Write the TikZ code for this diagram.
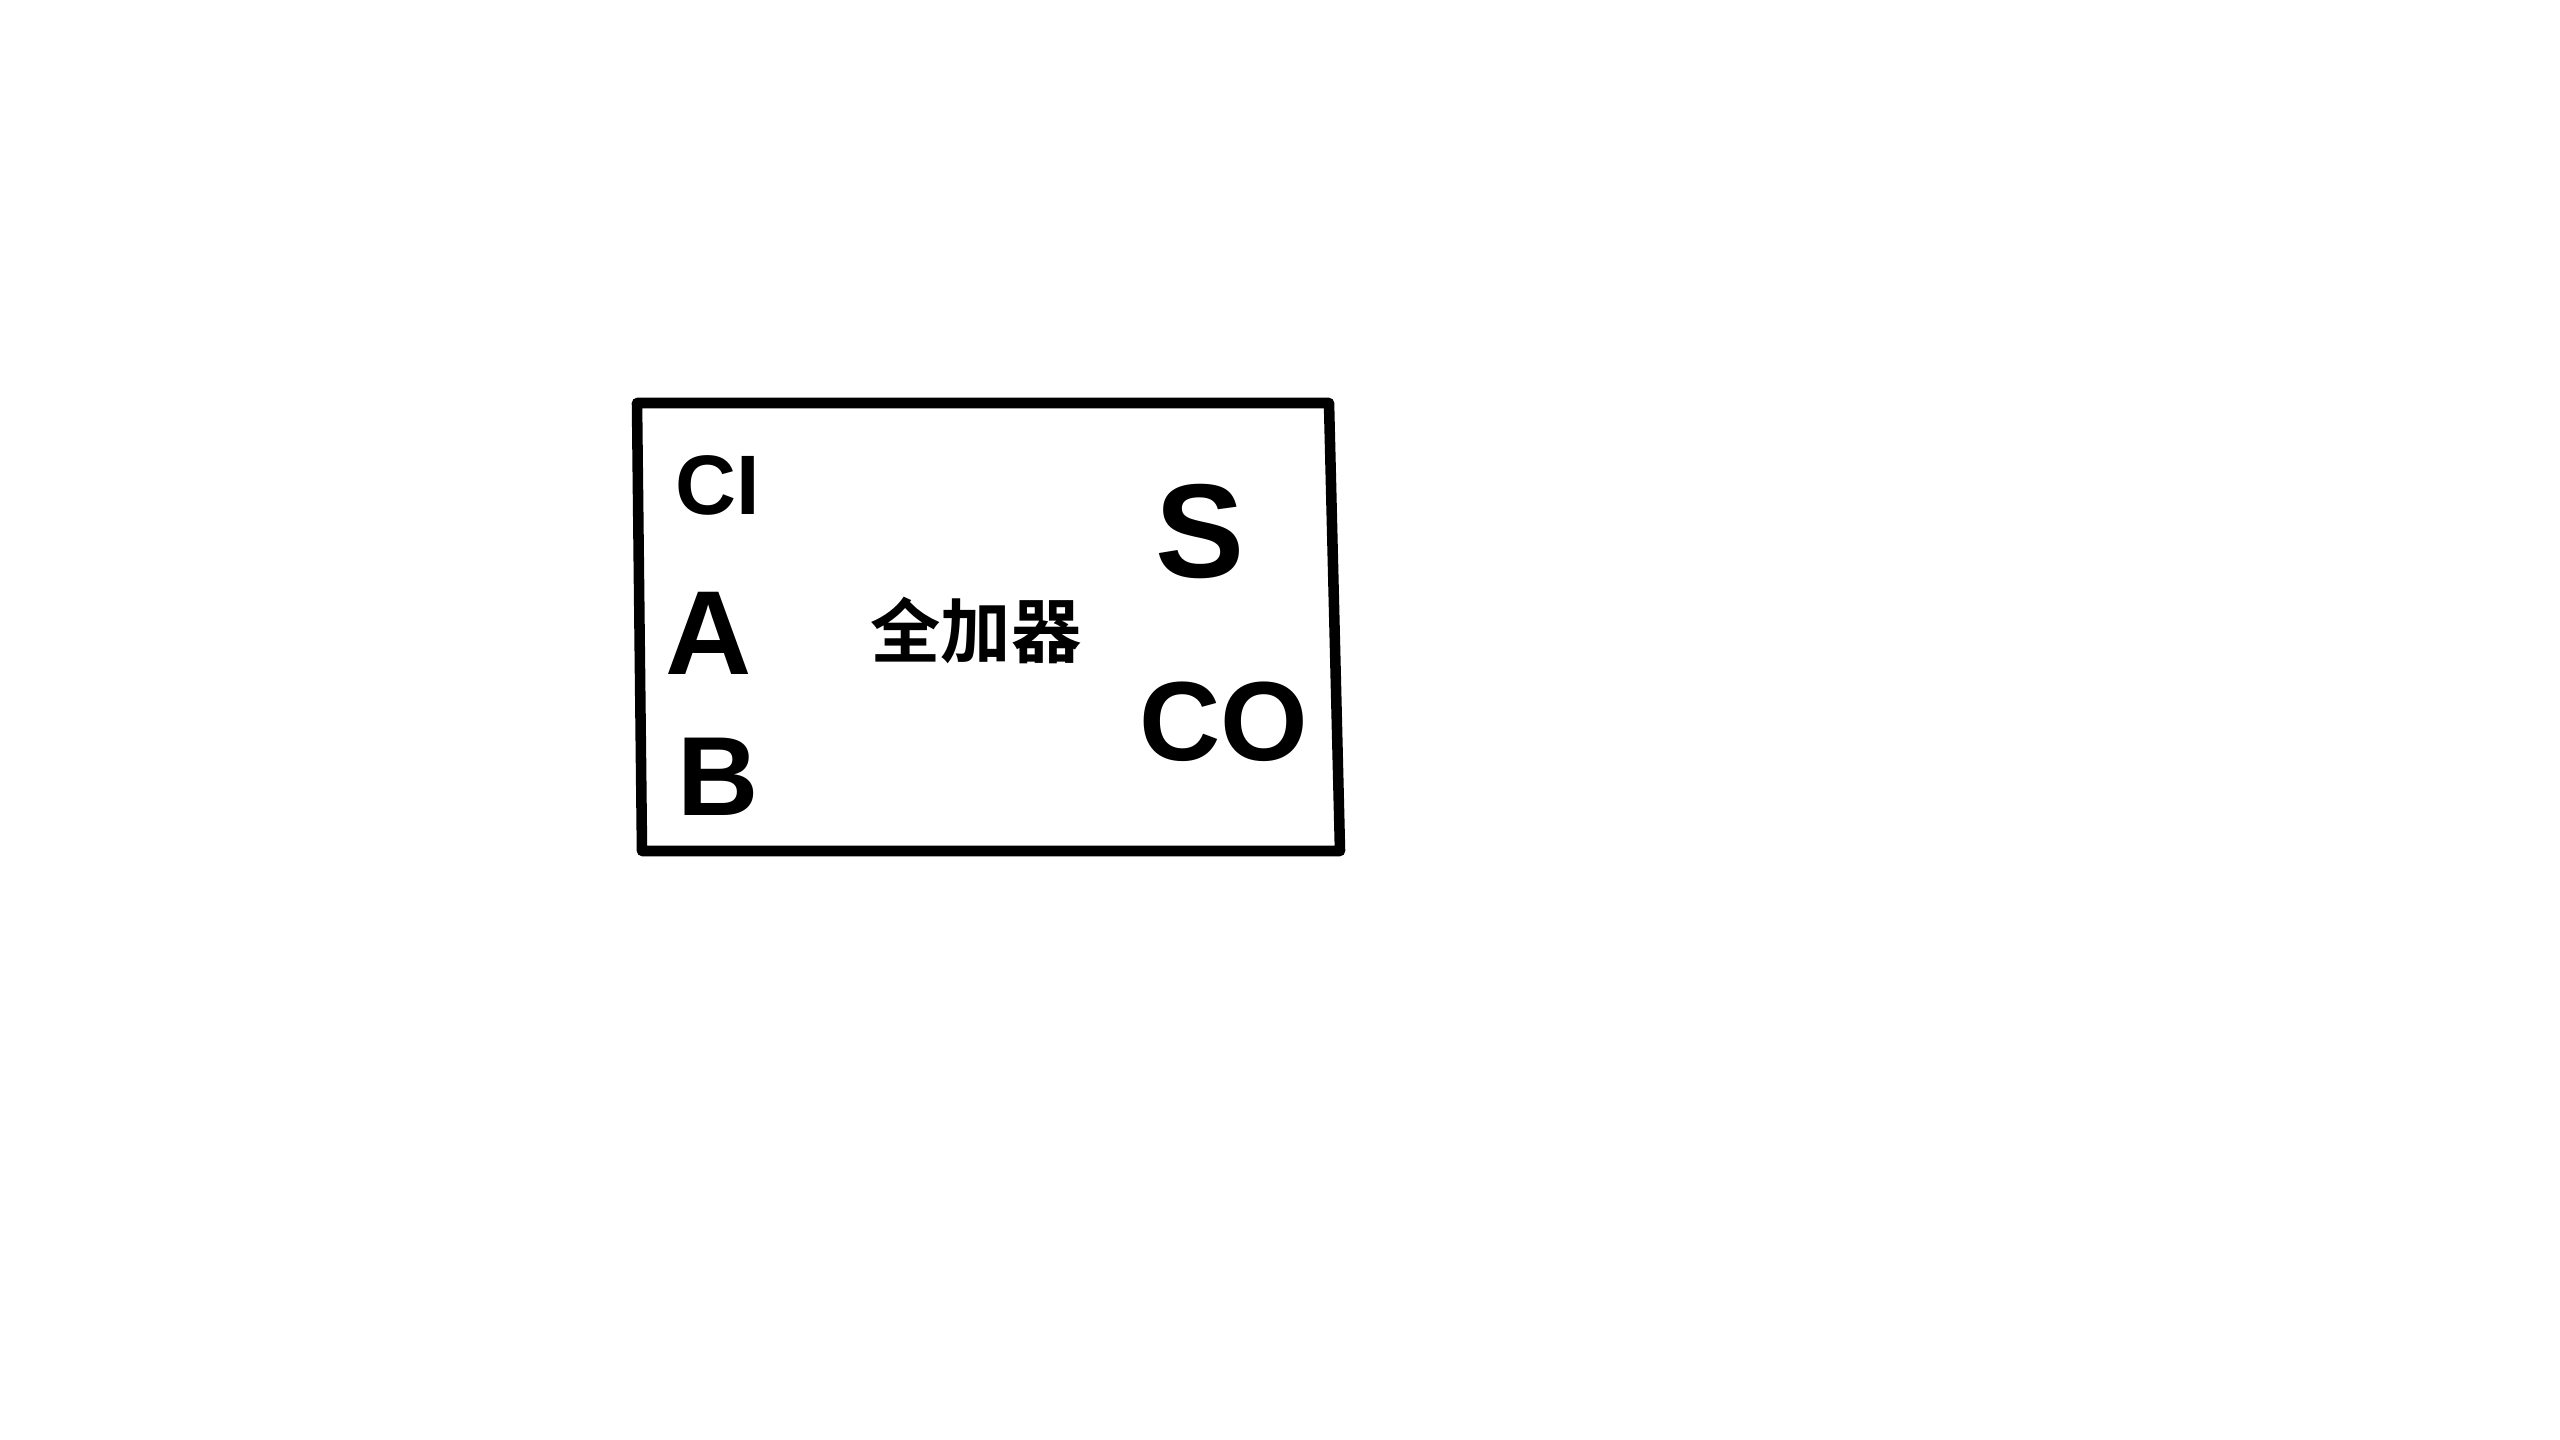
\documentclass[tikz,border=0pt]{standalone}
\usepackage{fontspec}
\setmainfont{Liberation Sans}
\newfontfamily\cjk{Noto Sans CJK SC}[BoldFont={Noto Sans CJK SC Bold}]
\usepackage{tikz}

\begin{document}
\begin{tikzpicture}[x=0.01cm, y=-0.01cm, line join=round, line cap=round,
  every node/.style={inner sep=0pt},
  port/.style={font=\bfseries\fontsize{30}{30}\selectfont}]
\useasboundingbox (0,0) rectangle (2560,1440);

% box
\coordinate (tl) at (637,403);
\coordinate (tr) at (1329,403);
\coordinate (br) at (1340,851);
\coordinate (bl) at (642,851);
\draw[line width=3pt] (tl) -- (tr) -- (br) -- (bl) -- cycle;

% name
\node[font=\cjk\bfseries\fontsize{20}{20}\selectfont] (name) at (976,630) {全加器};

% inputs
\node[port, font=\bfseries\fontsize{24}{24}\selectfont] (ci) at (718,485) {CI};
\node[port, font=\bfseries\fontsize{34}{34}\selectfont] (a) at (709,633) {A};
\node[port, font=\bfseries\fontsize{32}{32}\selectfont] (b) at (718,777) {B};

% outputs
\node[port, font=\bfseries\fontsize{38}{38}\selectfont] (s) at (1200,532) {S};
\node[port, font=\bfseries\fontsize{32}{32}\selectfont] (co) at (1224,722) {CO};
\end{tikzpicture}
\end{document}
